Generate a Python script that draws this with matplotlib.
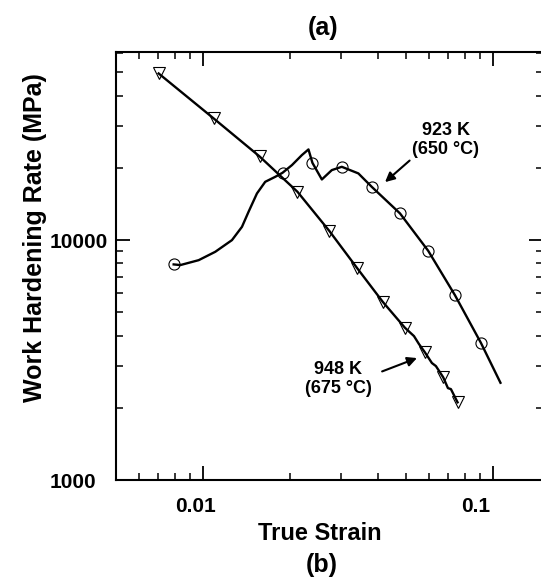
import matplotlib
matplotlib.use("Agg")
import matplotlib.pyplot as plt
import matplotlib.transforms as mtransforms

plt.rcParams['font.family'] = ['Liberation Sans', 'DejaVu Sans']
plt.rcParams['font.weight'] = 'bold'

# 923 K (650 C) curve
strain_923 = [0.00792, 0.00835, 0.00966, 0.01102, 0.01258, 0.01362, 0.01435, 0.01534,
              0.01638, 0.01774, 0.01879, 0.02025, 0.02191, 0.02309, 0.02383, 0.02568,
              0.02779, 0.03008, 0.03431, 0.03815, 0.04775, 0.05973, 0.07383, 0.09073, 0.1060]
rate_923 = [7920, 7870, 8250, 8940, 10000, 11360, 13120, 15650,
            17500, 18360, 19080, 20540, 22610, 23880, 20990, 17900,
            19580, 20210, 18970, 16680, 12920, 9025, 5900, 3733, 2543]
mark_strain_923 = [0.00792, 0.01879, 0.02383, 0.03008, 0.03815, 0.04775, 0.05973, 0.07383, 0.09073]
mark_rate_923 = [7920, 19080, 20990, 20210, 16680, 12920, 9025, 5900, 3733]

# 948 K (675 C) curve
strain_948 = [0.00703, 0.01088, 0.01566, 0.02116, 0.02728, 0.03404, 0.04164, 0.04967,
              0.05335, 0.05552, 0.0582, 0.06152, 0.0635, 0.0673, 0.06985, 0.07153, 0.0754]
rate_948 = [49500, 32150, 22330, 15900, 10900, 7620, 5530, 4310,
            3981, 3686, 3404, 3073, 2985, 2679, 2416, 2393, 2108]
mark_strain_948 = [0.00703, 0.01088, 0.01566, 0.02116, 0.02728, 0.03404, 0.04164, 0.04967,
                   0.0582, 0.0673, 0.0754]
mark_rate_948 = [49500, 32150, 22330, 15900, 10900, 7620, 5530, 4310, 3404, 2679, 2108]

xticks = [0.01, 0.1]
xticklabels = ['0.01', '0.1']
yticks = [1000, 10000]
yticklabels = ['1000', '10000']

fig = plt.figure(figsize=(5.41, 5.81), dpi=100)
ax = fig.add_axes([0.2139, 0.1738, 0.7889, 0.7372])
ax.set_xscale('log')
ax.set_yscale('log')

ax.plot(strain_923, rate_923, color='k', lw=1.7)
ax.plot(mark_strain_923, mark_rate_923, 'o', ms=8, mfc='none', mec='k', mew=0.8)
ax.plot(strain_948, rate_948, color='k', lw=1.7)
ax.plot(mark_strain_948, mark_rate_948, 'v', ms=8, mfc='none', mec='k', mew=0.8)

ax.set_xlim(0.005, 0.148)
ax.set_ylim(1000, 61000)
ax.set_xticks(xticks, xticklabels)
ax.set_yticks(yticks, yticklabels)
ax.xaxis.set_minor_formatter(matplotlib.ticker.NullFormatter())
ax.yaxis.set_minor_formatter(matplotlib.ticker.NullFormatter())

ax.tick_params(which='both', direction='in', top=True, right=True, labelsize=15)
ax.tick_params(which='major', length=10, width=1.3)
ax.tick_params(which='minor', length=5, width=1.1)
ax.tick_params(axis='x', pad=12)
ax.tick_params(axis='y', pad=47.3)
for lab in ax.get_yticklabels():
    lab.set_horizontalalignment('left')
# x labels sit a bit left of their ticks in the original
shifts = [-7.7, -17.3]
for lab, dx in zip(ax.get_xticklabels(), shifts):
    off = mtransforms.ScaledTranslation(dx / 100, 0, fig.dpi_scale_trans)
    lab.set_transform(lab.get_transform() + off)

for s in ax.spines.values():
    s.set_linewidth(1.5)

ax.set_xlabel('True Strain', fontsize=17, fontweight='bold')
ax.set_ylabel('Work Hardening Rate (MPa)', fontsize=18, fontweight='bold')
ax.xaxis.set_label_coords(0.4775, -0.1237)
ax.xaxis.label.set_va('center')
ax.yaxis.set_label_coords(-0.189, 0.565)
ax.yaxis.label.set_va('center')

ax.annotate('923 K\n(650 °C)', xy=(0.0424, 17450), xytext=(0.06873, 26100),
            ha='center', va='center', fontsize=13, fontweight='bold', linespacing=1.15,
            arrowprops=dict(arrowstyle='-|>', color='k', lw=1.5, mutation_scale=14,
                            relpos=(0.0, 0.0), shrinkA=0, shrinkB=0))
ax.annotate('948 K\n(675 °C)', xy=(0.05464, 3224), xytext=(0.02922, 2635),
            ha='center', va='center', fontsize=13, fontweight='bold', linespacing=1.15,
            arrowprops=dict(arrowstyle='-|>', color='k', lw=1.5, mutation_scale=14,
                            relpos=(1.0, 0.6), shrinkA=6, shrinkB=0))

fig.text(323 / 541, 1 - 28 / 581, '(a)', ha='center', va='center', fontsize=18, fontweight='bold')
fig.text(322 / 541, 1 - 565 / 581, '(b)', ha='center', va='center', fontsize=18, fontweight='bold')

fig.savefig('out.png', dpi=100)
